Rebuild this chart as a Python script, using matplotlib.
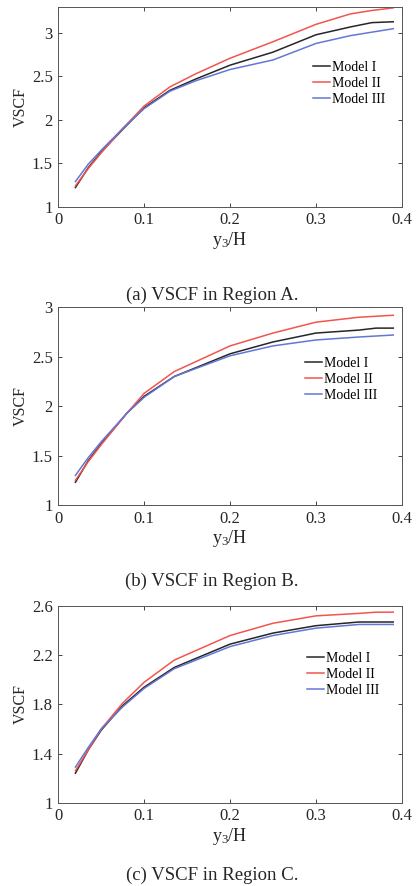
import matplotlib
matplotlib.use('Agg')
import matplotlib.pyplot as plt

plt.rcParams['font.family'] = ['Liberation Serif', 'DejaVu Serif']
plt.rcParams['mathtext.fontset'] = 'stix'

# sample positions along the height (y3/H)
x_a = [0.02, 0.035, 0.05, 0.075, 0.1, 0.13, 0.16, 0.2, 0.25, 0.3, 0.34, 0.365, 0.39]
a_m1 = [1.22, 1.45, 1.63, 1.89, 2.14, 2.34, 2.47, 2.63, 2.78, 2.98, 3.07, 3.12, 3.13]
a_m2 = [1.24, 1.44, 1.62, 1.90, 2.16, 2.38, 2.53, 2.71, 2.90, 3.10, 3.22, 3.26, 3.29]
a_m3 = [1.29, 1.49, 1.65, 1.90, 2.13, 2.33, 2.45, 2.58, 2.69, 2.88, 2.97, 3.01, 3.05]

x_b = [0.02, 0.035, 0.05, 0.08, 0.1, 0.135, 0.2, 0.25, 0.3, 0.35, 0.37, 0.39]
b_m1 = [1.23, 1.45, 1.62, 1.93, 2.10, 2.30, 2.53, 2.65, 2.74, 2.77, 2.79, 2.79]
b_m2 = [1.25, 1.44, 1.61, 1.93, 2.13, 2.35, 2.61, 2.74, 2.85, 2.90, 2.91, 2.92]
b_m3 = [1.30, 1.48, 1.64, 1.93, 2.09, 2.30, 2.51, 2.61, 2.67, 2.70, 2.71, 2.72]

x_c = [0.02, 0.035, 0.05, 0.075, 0.1, 0.135, 0.2, 0.25, 0.3, 0.35, 0.37, 0.39]
c_m1 = [1.24, 1.43, 1.59, 1.79, 1.94, 2.10, 2.29, 2.38, 2.44, 2.47, 2.47, 2.47]
c_m2 = [1.26, 1.43, 1.60, 1.81, 1.98, 2.16, 2.36, 2.46, 2.52, 2.54, 2.55, 2.55]
c_m3 = [1.29, 1.45, 1.60, 1.78, 1.93, 2.09, 2.27, 2.36, 2.42, 2.45, 2.45, 2.45]

labels = ['Model I', 'Model II', 'Model III']
colors = ['#262626', '#f2554c', '#6477d4']

panels = [
    (x_a, [a_m1, a_m2, a_m3], (1, 3.3), [1, 1.5, 2, 2.5, 3], ['1', '1.5', '2', '2.5', '3'],
     [0.140, 0.7667, 0.826, 0.2254], (0.741, 0.73), '(a) VSCF in Region A.', 0.667),
    (x_b, [b_m1, b_m2, b_m3], (1, 3), [1, 1.5, 2, 2.5, 3], ['1', '1.5', '2', '2.5', '3'],
     [0.140, 0.430, 0.826, 0.2231], (0.718, 0.748), '(b) VSCF in Region B.', 0.344),
    (x_c, [c_m1, c_m2, c_m3], (1, 2.6), [1, 1.4, 1.8, 2.2, 2.6], ['1', '1.4', '1.8', '2.2', '2.6'],
     [0.140, 0.094, 0.826, 0.222], (0.724, 0.765), '(c) VSCF in Region C.', 0.012),
]

fig = plt.figure(figsize=(4.16, 8.86), dpi=100)

for xs, series, ylim, yt, ytl, rect, leg_at, caption, cap_y in panels:
    ax = fig.add_axes(rect)
    for ys, lab, col in zip(series, labels, colors):
        ax.plot(xs, ys, color=col, lw=1.1, label=lab)
    ax.set_xlim(0, 0.4)
    ax.set_ylim(*ylim)
    ax.set_xticks([0, 0.1, 0.2, 0.3, 0.4])
    ax.set_xticklabels(['0', '0.1', '0.2', '0.3', '0.4'])
    ax.set_yticks(yt)
    ax.set_yticklabels(ytl)
    ax.tick_params(direction='in', top=True, right=True, length=3, width=0.6,
                   labelsize=12, colors='#262626', pad=4)
    for sp in ax.spines.values():
        sp.set_color('#555555')
        sp.set_linewidth(0.7)
    ax.set_xlabel(r'$\mathregular{y_3/H}$', fontsize=13, labelpad=1, color='#262626')
    ax.set_ylabel('VSCF', fontsize=11.5, labelpad=2, color='#262626')
    ax.legend(loc='upper left', bbox_to_anchor=leg_at, frameon=False, fontsize=10,
              handlelength=1.2, handletextpad=0.15, labelspacing=0.21, borderaxespad=0,
              borderpad=0)
    fig.text(0.51, cap_y, caption, ha='center', va='center', fontsize=13.5, color='#262626')

fig.savefig('out.png', dpi=100)
